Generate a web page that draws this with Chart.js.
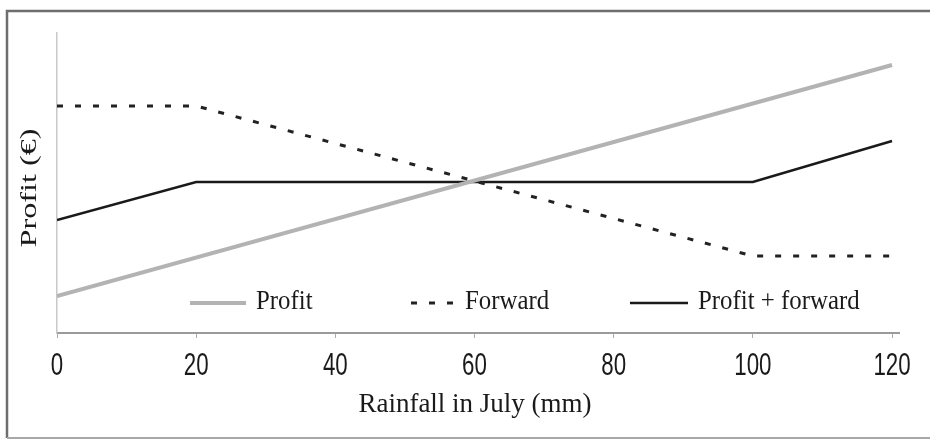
<!DOCTYPE html>
<html>
<head>
<meta charset="utf-8">
<script src="https://cdn.jsdelivr.net/npm/chart.js@4/dist/chart.umd.min.js"></script>
<style>
  html, body { margin: 0; padding: 0; background: #fff; }
  #chartbox { width: 930px; height: 440px; position: relative; }
</style>
</head>
<body>
<div id="chartbox"><canvas id="payoff"></canvas></div>
<script>
// rainfall (mm) tick labels
var rainTicks = [0, 20, 40, 60, 80, 100, 120];

// profit curves, arbitrary units (no y labels in the original)
var profitX = [0, 120];
var profitY = [37, 268];
var forwardX = [0, 20, 100, 120];
var forwardY = [227, 227, 77, 77];
var combinedX = [0, 20, 100, 120];
var combinedY = [113, 151, 151, 192];

var serif = "'Liberation Serif', 'Times New Roman', serif";
var sans = "'Liberation Sans', Arial, sans-serif";

function pts(xs, ys) {
  return xs.map(function(x, i) { return { x: x, y: ys[i] }; });
}

// the original picture is squashed sideways, so text gets a horizontal scale
function squeezedText(ctx, text, x, y, font, sx, align) {
  ctx.save();
  ctx.translate(x, y);
  ctx.scale(sx, 1);
  ctx.font = font;
  ctx.textAlign = align || 'center';
  ctx.textBaseline = 'middle';
  ctx.fillText(text, 0, 0);
  ctx.restore();
}

//white page and the grey frame round the figure
var framePlugin = {
  id: 'frame',
  beforeDraw: function(chart) {
    var ctx = chart.ctx;
    ctx.save();
    ctx.fillStyle = '#fff';
    ctx.fillRect(0, 0, chart.width, chart.height);
    ctx.strokeStyle = '#6e6e6e';
    ctx.lineWidth = 2.5;
    ctx.beginPath();
    ctx.moveTo(7, 438);
    ctx.lineTo(7, 11);
    ctx.lineTo(930, 11);
    ctx.stroke();
    ctx.strokeStyle = '#a8a8a8';
    ctx.lineWidth = 2;
    ctx.beginPath();
    ctx.moveTo(7, 438);
    ctx.lineTo(930, 438);
    ctx.stroke();
    ctx.restore();
  }
};

// tick labels, axis titles and the legend sitting inside the plot
var legendSpots = [ { x: 190, len: 56 }, { x: 411, len: 44 }, { x: 630, len: 58 } ];

var labelsPlugin = {
  id: 'labels',
  afterDraw: function(chart) {
    var ctx = chart.ctx;
    var xs = chart.scales.x;
    ctx.save();
    ctx.fillStyle = '#1a1a1a';

    rainTicks.forEach(function(v) {
      squeezedText(ctx, String(v), xs.getPixelForValue(v), 366, '31px ' + sans, 0.72);
    });

    squeezedText(ctx, 'Rainfall in July (mm)', 475, 405, '27px ' + serif, 1);

    ctx.save();
    ctx.translate(30, 188);
    ctx.rotate(-Math.PI / 2);
    squeezedText(ctx, 'Profit (\u20ac)', 0, 0, '23px ' + serif, 1.4);
    ctx.restore();

    chart.data.datasets.forEach(function(ds, i) {
      var s = legendSpots[i];
      ctx.strokeStyle = ds.borderColor;
      ctx.lineWidth = ds.borderWidth;
      ctx.setLineDash(ds.borderDash || []);
      ctx.beginPath();
      ctx.moveTo(s.x, 303);
      ctx.lineTo(s.x + s.len, 303);
      ctx.stroke();
      ctx.setLineDash([]);
      squeezedText(ctx, ds.label, s.x + s.len + 10, 302, '27px ' + serif, 0.92, 'left');
    });
    ctx.restore();
  }
};

var ctx = document.getElementById('payoff').getContext('2d');
var payoffChart = new Chart(ctx, {
  type: 'line',
  data: {
    datasets: [
      {
        label: 'Profit',
        data: pts(profitX, profitY),
        borderColor: '#b3b3b3',
        borderWidth: 4,
        pointRadius: 0,
        tension: 0
      },
      {
        label: 'Forward',
        data: pts(forwardX, forwardY),
        borderColor: '#222',
        borderWidth: 3,
        borderDash: [6, 12],
        pointRadius: 0,
        tension: 0
      },
      {
        label: 'Profit + forward',
        data: pts(combinedX, combinedY),
        borderColor: '#1a1a1a',
        borderWidth: 2.5,
        pointRadius: 0,
        tension: 0
      }
    ]
  },
  options: {
    responsive: true,
    maintainAspectRatio: false,
    animation: false,
    layout: { padding: { top: 33, right: 31, left: 0, bottom: 0 } },
    plugins: {
      legend: { display: false },
      tooltip: { enabled: false }
    },
    scales: {
      x: {
        type: 'linear',
        min: 0,
        max: 121,
        afterBuildTicks: function(scale) {
          scale.ticks = rainTicks.map(function(v) { return { value: v }; });
        },
        afterFit: function(scale) { scale.height = 107; },
        grid: { drawOnChartArea: false, drawTicks: true, tickLength: 5, color: '#aaa' },
        border: { color: '#9a9a9a', width: 2 },
        ticks: { display: false }
      },
      y: {
        min: 0,
        max: 300,
        afterFit: function(scale) { scale.width = 57; },
        grid: { display: false },
        border: { color: '#c8c8c8', width: 1.5 },
        ticks: { display: false }
      }
    }
  },
  plugins: [framePlugin, labelsPlugin]
});
</script>
</body>
</html>
